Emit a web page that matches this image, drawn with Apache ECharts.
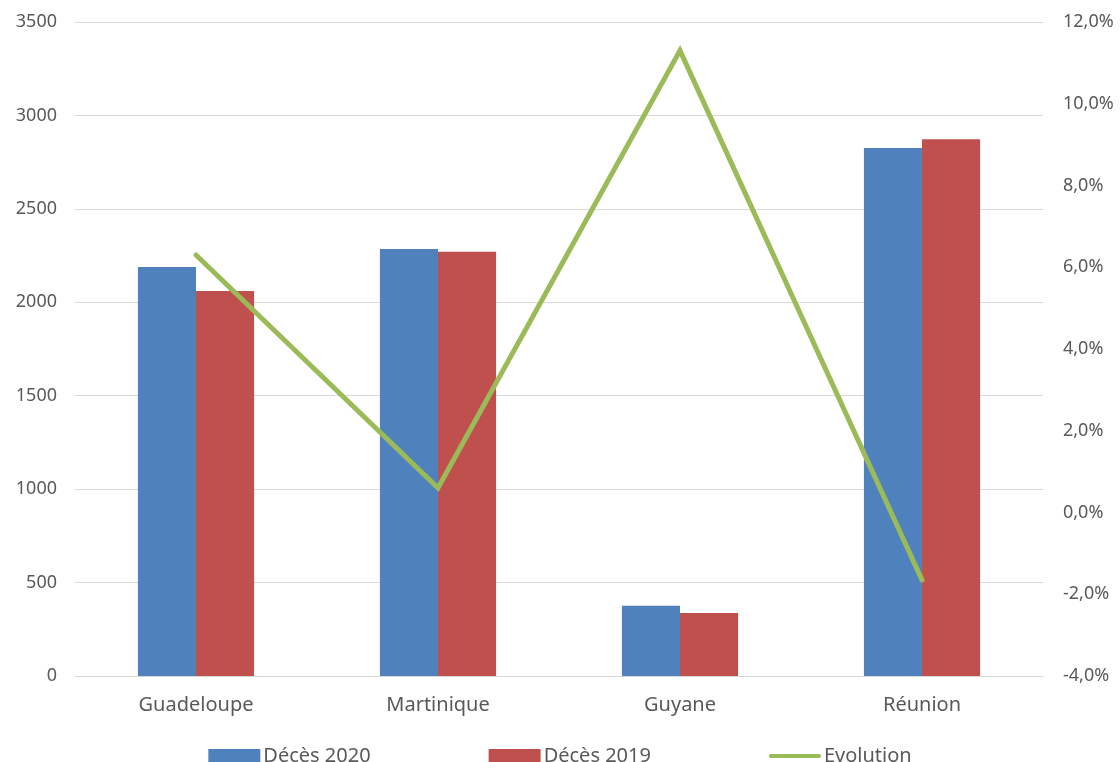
<!DOCTYPE html>
<html><head><meta charset="utf-8">
<script src="https://cdn.jsdelivr.net/npm/echarts@6/dist/echarts.min.js"></script>
<style>html,body{margin:0;padding:0;background:#fff}#c{width:1120px;height:762px}</style>
</head><body><div id="c"></div>
<script>
const categories = ['Guadeloupe', 'Martinique', 'Guyane', 'Réunion'];
const deces2020 = [2189, 2285, 376, 2826];
const deces2019 = [2060, 2270, 337, 2872];
const evolution = [6.3, 0.6, 11.3, -1.65];
const leftTicks = [0, 3500, 500];
const rightTicks = [-4, 12, 2];

const font = 'Noto Sans';
const chart = echarts.init(document.getElementById('c'));
chart.setOption({
  animation: false,
  textStyle: { fontFamily: font },
  grid: { left: 75, right: 77, top: 22, bottom: 86 },
  legend: {
    top: 741, left: 'center',
    itemWidth: 52, itemHeight: 14, itemGap: 118,
    textStyle: { fontSize: 20, color: '#595959', fontFamily: font, padding: [0, 0, 0, -2] },
    data: [
      { name: 'Décès 2020', icon: 'rect' },
      { name: 'Décès 2019', icon: 'rect' },
      { name: 'Evolution', icon: 'path://M2,0 L50,0 A2,2 0 0 1 50,4 L2,4 A2,2 0 0 1 2,0 Z' }
    ]
  },
  xAxis: {
    type: 'category', data: categories,
    axisTick: { show: false },
    axisLine: { lineStyle: { color: '#d9d9d9', width: 1 } },
    axisLabel: { fontSize: 20, color: '#595959', margin: 19 }
  },
  yAxis: [{
    type: 'value', min: leftTicks[0], max: leftTicks[1], interval: leftTicks[2],
    axisLine: { show: false }, axisTick: { show: false },
    splitLine: { lineStyle: { color: '#d9d9d9', width: 1 } },
    axisLabel: { fontSize: 18, color: '#595959', margin: 18, formatter: v => String(v) }
  }, {
    type: 'value', min: rightTicks[0], max: rightTicks[1], interval: rightTicks[2],
    axisLine: { show: false }, axisTick: { show: false }, splitLine: { show: false },
    axisLabel: { fontSize: 18, color: '#595959', margin: 20,
      formatter: v => v.toFixed(1).replace('.', ',') + '%' }
  }],
  series: [{
    name: 'Décès 2020', type: 'bar', data: deces2020,
    itemStyle: { color: '#4F81BD' }, barGap: '0%', barCategoryGap: '52%'
  }, {
    name: 'Décès 2019', type: 'bar', data: deces2019,
    itemStyle: { color: '#C0504D' }, barGap: '0%', barCategoryGap: '52%'
  }, {
    name: 'Evolution', type: 'line', yAxisIndex: 1, data: evolution,
    symbol: 'none', itemStyle: { color: '#9BBB59' },
    lineStyle: { color: '#9BBB59', width: 5, cap: 'round', join: 'miter' }
  }]
});
</script></body></html>
